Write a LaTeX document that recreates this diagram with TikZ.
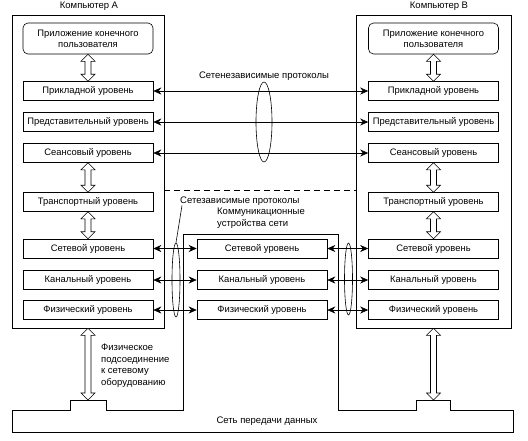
\documentclass[tikz,border=0pt]{standalone}
\usepackage{fontspec}
\setmainfont{Liberation Sans}
\usetikzlibrary{arrows.meta, calc, shapes.geometric}
\tikzset{
  frame/.style={draw, line width=0.6pt, inner sep=0pt},
  layer/.style={draw, line width=0.6pt, minimum width=130pt, minimum height=19pt, inner sep=0pt, font=\fontsize{9.4}{11}\selectfont},
  app/.style={layer, rounded corners=5pt, minimum height=31pt, align=center},
  link/.style={line width=0.6pt, {Stealth[length=8pt,width=7pt]}-{Stealth[length=8pt,width=7pt]}},
  fat/.style={line width=0.6pt, fill=white},
  proto/.style={draw, ellipse, line width=0.6pt, inner sep=0pt},
  sep/.style={line width=0.6pt, dash pattern=on 6pt off 4pt},
  label/.style={font=\fontsize{9.5}{11.5}\selectfont, inner sep=0pt}
}
% hollow vertical double arrow from (#1) down to (#2)
\newcommand{\fatarrow}[2]{%
  \draw[fat] let \p1=(#1), \p2=(#2) in
    (\x1,\y1) -- ++(-7pt,-7pt) -- ++(4pt,0) -- (\x2-3pt,\y2+7pt) -- ++(-4pt,0)
    -- (\x2,\y2) -- ++(7pt,7pt) -- ++(-4pt,0) -- (\x1+3pt,\y1-7pt) -- ++(4pt,0) -- cycle;}

\begin{document}
\begin{tikzpicture}[x=1pt, y=-1pt]
  \useasboundingbox (0,0) rectangle (528,440);
  % computers
  \node[frame, minimum width=152pt, minimum height=313pt] (compA) at (88,171.5) {};
  \node[frame, minimum width=155pt, minimum height=313pt] (compB) at (433.5,171.5) {};
  \node[label] at (89,6) {Компьютер А};
  \node[label] at (439,6) {Компьютер В};
  % layers
  \node[app] (A-app) at (88,38.5) {Приложение конечного\\пользователя};
  \node[app] (B-app) at (433.5,38.5) {Приложение конечного\\пользователя};
  \foreach \n/\y/\t in {ap/91/Прикладной уровень, pr/122/Представительный уровень,
      se/153/Сеансовый уровень, tr/202/Транспортный уровень, nw/248.5/Сетевой уровень,
      dl/280/Канальный уровень, ph/310/Физический уровень} {
    \node[layer] (A-\n) at (88,\y) {\t};
    \node[layer] (B-\n) at (433.5,\y) {\t};
  }
  \foreach \n/\y/\t in {nw/248.5/Сетевой уровень, dl/280/Канальный уровень,
      ph/310/Физический уровень}
    \node[layer] (M-\n) at (262,\y) {\t};
  % vertical arrows
  \foreach \c in {A,B} {
    \fatarrow{\c-app.south}{\c-ap.north}
    \fatarrow{\c-se.south}{\c-tr.north}
    \fatarrow{\c-tr.south}{\c-nw.north}
  }
  % network
  \draw[line width=0.6pt] (12,410) -- (70,410) -- (70,400) -- (106,400) -- (106,410)
    -- (183,410) -- (183,234) -- (338,234) -- (338,410) -- (416,410) -- (416,400)
    -- (450,400) -- (450,410) -- (513,410) -- (513,432) -- (12,432) -- cycle;
  \coordinate (bumpA) at (88,400);
  \coordinate (bumpB) at (433.5,400);
  \fatarrow{compA.south}{bumpA}
  \fatarrow{compB.south}{bumpB}
  % protocols
  \foreach \n in {ap,pr,se} \draw[link] (A-\n) -- (B-\n);
  \foreach \n in {nw,dl,ph} {
    \draw[link] (A-\n) -- (M-\n);
    \draw[link] (M-\n) -- (B-\n);
  }
  \coordinate (dash) at (0,190);
  \draw[sep] (compA.east |- dash) -- (compB.west |- dash);
  \node[proto, minimum width=16pt, minimum height=80pt] (indep) at (264,122) {};
  \node[proto, minimum width=8pt, minimum height=74pt] (depL) at (176,280) {};
  \node[proto, minimum width=8pt, minimum height=72pt] (depR) at (348.5,279) {};
  % labels
  \node[label] (indepLbl) at (264,76) {Сетенезависимые протоколы};
  \node[label, anchor=west] (depLbl) at (180,201) {Сетезависимые протоколы};
  \draw[line width=0.6pt] ([xshift=2pt]depLbl.south west) -- (depL.north);
  \node[label, anchor=north west, align=left] (devLbl) at (217,208) {Коммуникационные\\устройства сети};
  \node[label, anchor=north west, align=left] (physLbl) at (101,344) {Физическое\\подсоединение\\к сетевому\\оборудованию};
  \node[label] (netLbl) at (267,421) {Сеть передачи данных};
\end{tikzpicture}
\end{document}
